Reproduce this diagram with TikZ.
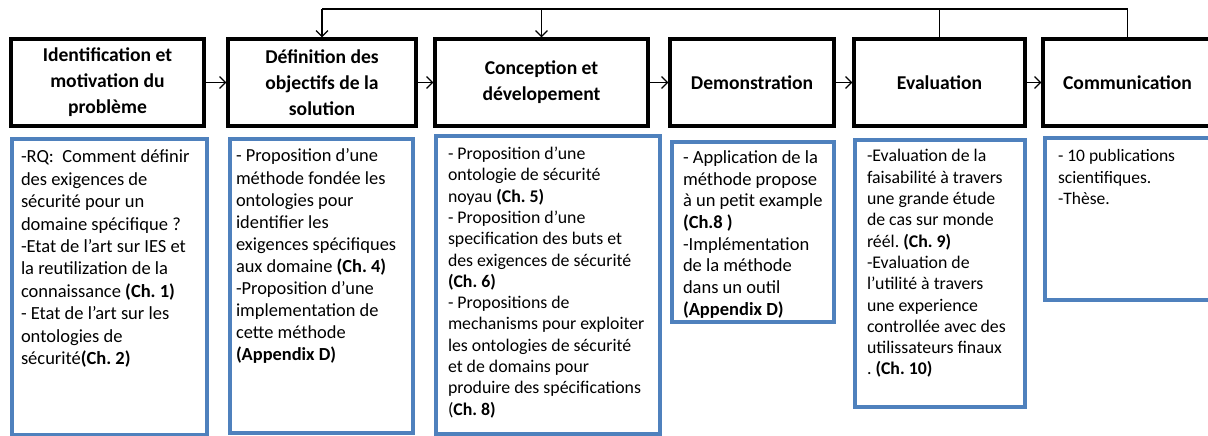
\documentclass[tikz,border=0pt]{standalone}
\usepackage{fontspec}
\setmainfont{Carlito}
\usetikzlibrary{arrows.meta}
\definecolor{boxblue}{RGB}{79,129,189}
\newcommand{\boxtext}[3]{\parbox[t][#1][t]{#2}{\frenchspacing\rightskip=-30pt plus 1fil\relax\strut #3}}
\begin{document}
\begin{tikzpicture}[
      x=1pt, y=-1pt,
      >={Straight Barb[length=6pt,width=12pt]},
      phase/.style={draw, line width=3.2pt, align=center, minimum height=87pt,
        font=\bfseries\fontsize{19.6}{26}\selectfont},
      info/.style={draw=boxblue, line width=3.2pt, anchor=north west, outer sep=0pt,
        inner xsep=9pt, inner ysep=8pt, font=\fontsize{18.4}{22.2}\selectfont},
      link/.style={line width=1.2pt, ->},
      ]
      \useasboundingbox (0,0) rectangle (1208,436);
      \clip (0,0) rectangle (1208,436);
      \def\Mid{82.5}
      \coordinate (loop) at (0,9);

      \node[phase, minimum width=193pt] (ident) at (107.5,\Mid) {Identification et\\motivation du\\problème};
      \node[phase, minimum width=188pt] (defn) at (322,\Mid) {Définition des\\objectifs de la\\solution};
      \node[phase, minimum width=213pt] (conc) at (541.5,\Mid) {Conception et\\dévelopement};
      \node[phase, minimum width=164pt] (demo) at (752,\Mid) {Demonstration};
      \node[phase, minimum width=171pt] (eval) at (939.5,\Mid) {Evaluation};
      \node[phase, minimum width=169pt] (comm) at (1127.5,\Mid) {Communication};

      \draw[link] (ident) -- (defn);
      \draw[link] (defn) -- (conc);
      \draw[link] (conc) -- (demo);
      \draw[link] (demo) -- (eval);
      \draw[link] (eval) -- (comm);

      \draw[line width=1.2pt] (comm.north) -- (comm.north |- loop) -- (defn.north |- loop);
      \draw[line width=1.2pt] (eval.north) -- (eval.north |- loop);
      \draw[link] (defn.north |- loop) -- (defn.north);
      \draw[link] (conc.north |- loop) -- (conc.north);

      \node[info, inner ysep=8.3pt, font=\fontsize{18.5}{22.4}\selectfont] (identtxt) at (12,139) {\boxtext{279.4pt}{177pt}{%
        -RQ:~ Comment définir\\des exigences de\\sécurité pour un\\domaine spécifique ?\\
        -Etat de l’art sur IES et\\la reutilization de la\\connaissance \textbf{(Ch. 1)}\\
        - Etat de l’art sur les\\ontologies de\\sécurité\textbf{(Ch. 2)}}};
      \node[info, inner xsep=6pt, inner ysep=7.5pt, font=\fontsize{18.4}{22.1}\selectfont] (defntxt) at (230,139) {\boxtext{279pt}{171pt}{%
        - Proposition d’une\\méthode fondée les\\ontologies pour\\identifier les\\
        exigences spécifiques\\aux domaine \textbf{(Ch. 4)}\\-Proposition d’une\\
        implementation de\\cette méthode\\\textbf{(Appendix D)}}};
      \node[info, inner xsep=12pt, inner ysep=8.6pt, font=\fontsize{17.8}{21.3}\selectfont] (conctxt) at (436,136) {\boxtext{280.8pt}{200pt}{%
        - Proposition d’une\\ontologie de sécurité\\noyau \textbf{(Ch. 5)}\\
        - Proposition d’une\\specification des buts et\\des exigences de sécurité\\
        \textbf{(Ch. 6)}\\- Propositions de\\mechanisms pour exploiter\\
        les ontologies de sécurité\\et de domains pour\\produire des spécifications\\
        (\textbf{Ch. 8)}}};
      \node[info, inner xsep=11pt, inner ysep=6.3pt, font=\fontsize{18.5}{21.7}\selectfont] (demotxt) at (672,142) {\boxtext{167.4pt}{140pt}{%
        - Application de la\\méthode propose\\à un petit example\\\textbf{(Ch.8 )}\\
        -Implémentation\\de la méthode\\dans un outil\\\textbf{(Appendix D)}}};
      \node[info, inner xsep=12pt, inner ysep=7pt, font=\fontsize{17.8}{21.3}\selectfont] (evaltxt) at (855,140) {\boxtext{253pt}{146pt}{%
        -Evaluation de la\\faisabilité à travers\\une grande étude\\de cas sur monde\\
        réél. \textbf{(Ch. 9)}\\-Evaluation de\\l’utilité à travers\\une experience\\
        controllée avec des\\utilissateurs finaux\\. \textbf{(Ch. 10)}}};
      \node[info, inner xsep=13pt, inner ysep=8.3pt, font=\fontsize{17.5}{21.7}\selectfont] (commtxt) at (1045,138) {\boxtext{145.4pt}{144pt}{%
        - 10 publications\\scientifiques.\\-Thèse.}};
      \end{tikzpicture}
\end{document}
